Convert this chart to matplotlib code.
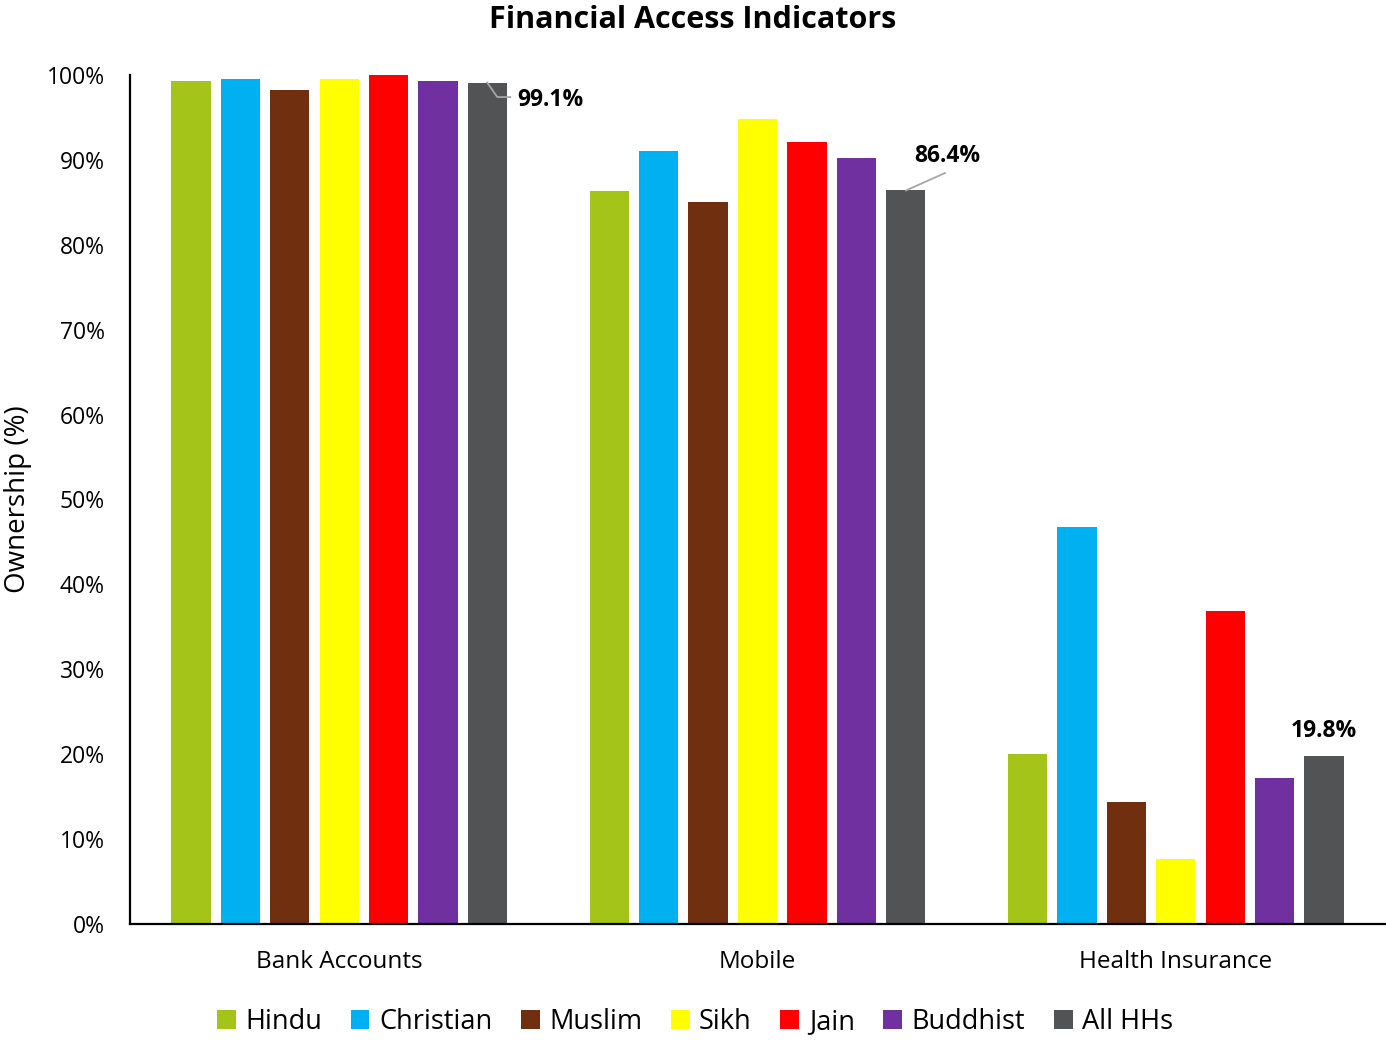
import numpy as np
import matplotlib
matplotlib.use("Agg")
import matplotlib.pyplot as plt
from matplotlib.ticker import PercentFormatter

plt.rcParams['font.family'] = ['Open Sans', 'DejaVu Sans']

categories = ["Bank Accounts", "Mobile", "Health Insurance"]
groups = ["Hindu", "Christian", "Muslim", "Sikh", "Jain", "Buddhist", "All HHs"]
colors = ["#A5C41A", "#00B0F0", "#70300F", "#FFFF00", "#FF0000", "#7030A0", "#525355"]

hindu = [99.3, 86.3, 20.0]
christian = [99.5, 91.0, 46.8]
muslim = [98.2, 85.0, 14.4]
sikh = [99.5, 94.8, 7.7]
jain = [100.0, 92.1, 36.9]
buddhist = [99.3, 90.2, 17.2]
all_hhs = [99.1, 86.4, 19.8]

series = [hindu, christian, muslim, sikh, jain, buddhist, all_hhs]

fig = plt.figure(figsize=(13.86, 10.4), dpi=100)
ax = fig.add_axes([130 / 1386, 1 - 924 / 1040, 1255 / 1386, 849 / 1040])

x = np.arange(len(categories))
step = 0.118
width = 0.094
offsets = (np.arange(len(groups)) - (len(groups) - 1) / 2) * step
for vals, off, col, name in zip(series, offsets, colors, groups):
    ax.bar(x + off, vals, width=width, color=col, label=name, zorder=2)

ax.set_xlim(-0.5, len(categories) - 0.5)
ax.set_ylim(0, 100)
ax.set_yticks(np.arange(0, 101, 10))
ax.yaxis.set_major_formatter(PercentFormatter(decimals=0))
ax.tick_params(axis='y', length=0, labelsize=16.5, pad=18)
ax.tick_params(axis='x', length=0, labelsize=17.5, pad=19)
ax.set_xticks(x)
ax.set_xticklabels(categories)

for side in ("top", "right"):
    ax.spines[side].set_visible(False)
ax.spines["left"].set_linewidth(1.6)
ax.spines["bottom"].set_linewidth(1.6)

fig.text(18 / 1386, 1 - 499 / 1040, "Ownership (%)", rotation=90, ha="center",
         va="center", fontsize=20)
fig.text(0.5, 1 - 20 / 1040, "Financial Access Indicators", ha="center", va="center",
         fontsize=22, fontweight="bold")

# value labels for the "All HHs" series
last = x + offsets[-1]
lead = dict(color="#A6A6A6", lw=1.3)
v0 = all_hhs[0]
ax.plot([last[0], last[0] + 0.024, last[0] + 0.055], [v0, 97.4, 97.4], **lead)
ax.text(last[0] + 0.072, 97.1, f"{v0:.1f}%", ha="left", va="center",
        fontsize=16.5, fontweight="bold")
v1 = all_hhs[1]
ax.plot([last[1] + 0.001, last[1] + 0.094], [v1, 88.45], **lead)
ax.text(last[1] + 0.10, 90.5, f"{v1:.1f}%", ha="center", va="center",
        fontsize=16.5, fontweight="bold")
v2 = all_hhs[2]
ax.text(last[2], 22.7, f"{v2:.1f}%", ha="center", va="center",
        fontsize=16.5, fontweight="bold")

leg = fig.legend(loc="center", bbox_to_anchor=(695 / 1386, 1 - 1022 / 1040), ncol=7,
                 frameon=False, fontsize=19.5, handlelength=0.7, handleheight=0.7,
                 handletextpad=0.35, columnspacing=1.05)

fig.savefig("out.png", dpi=100)
